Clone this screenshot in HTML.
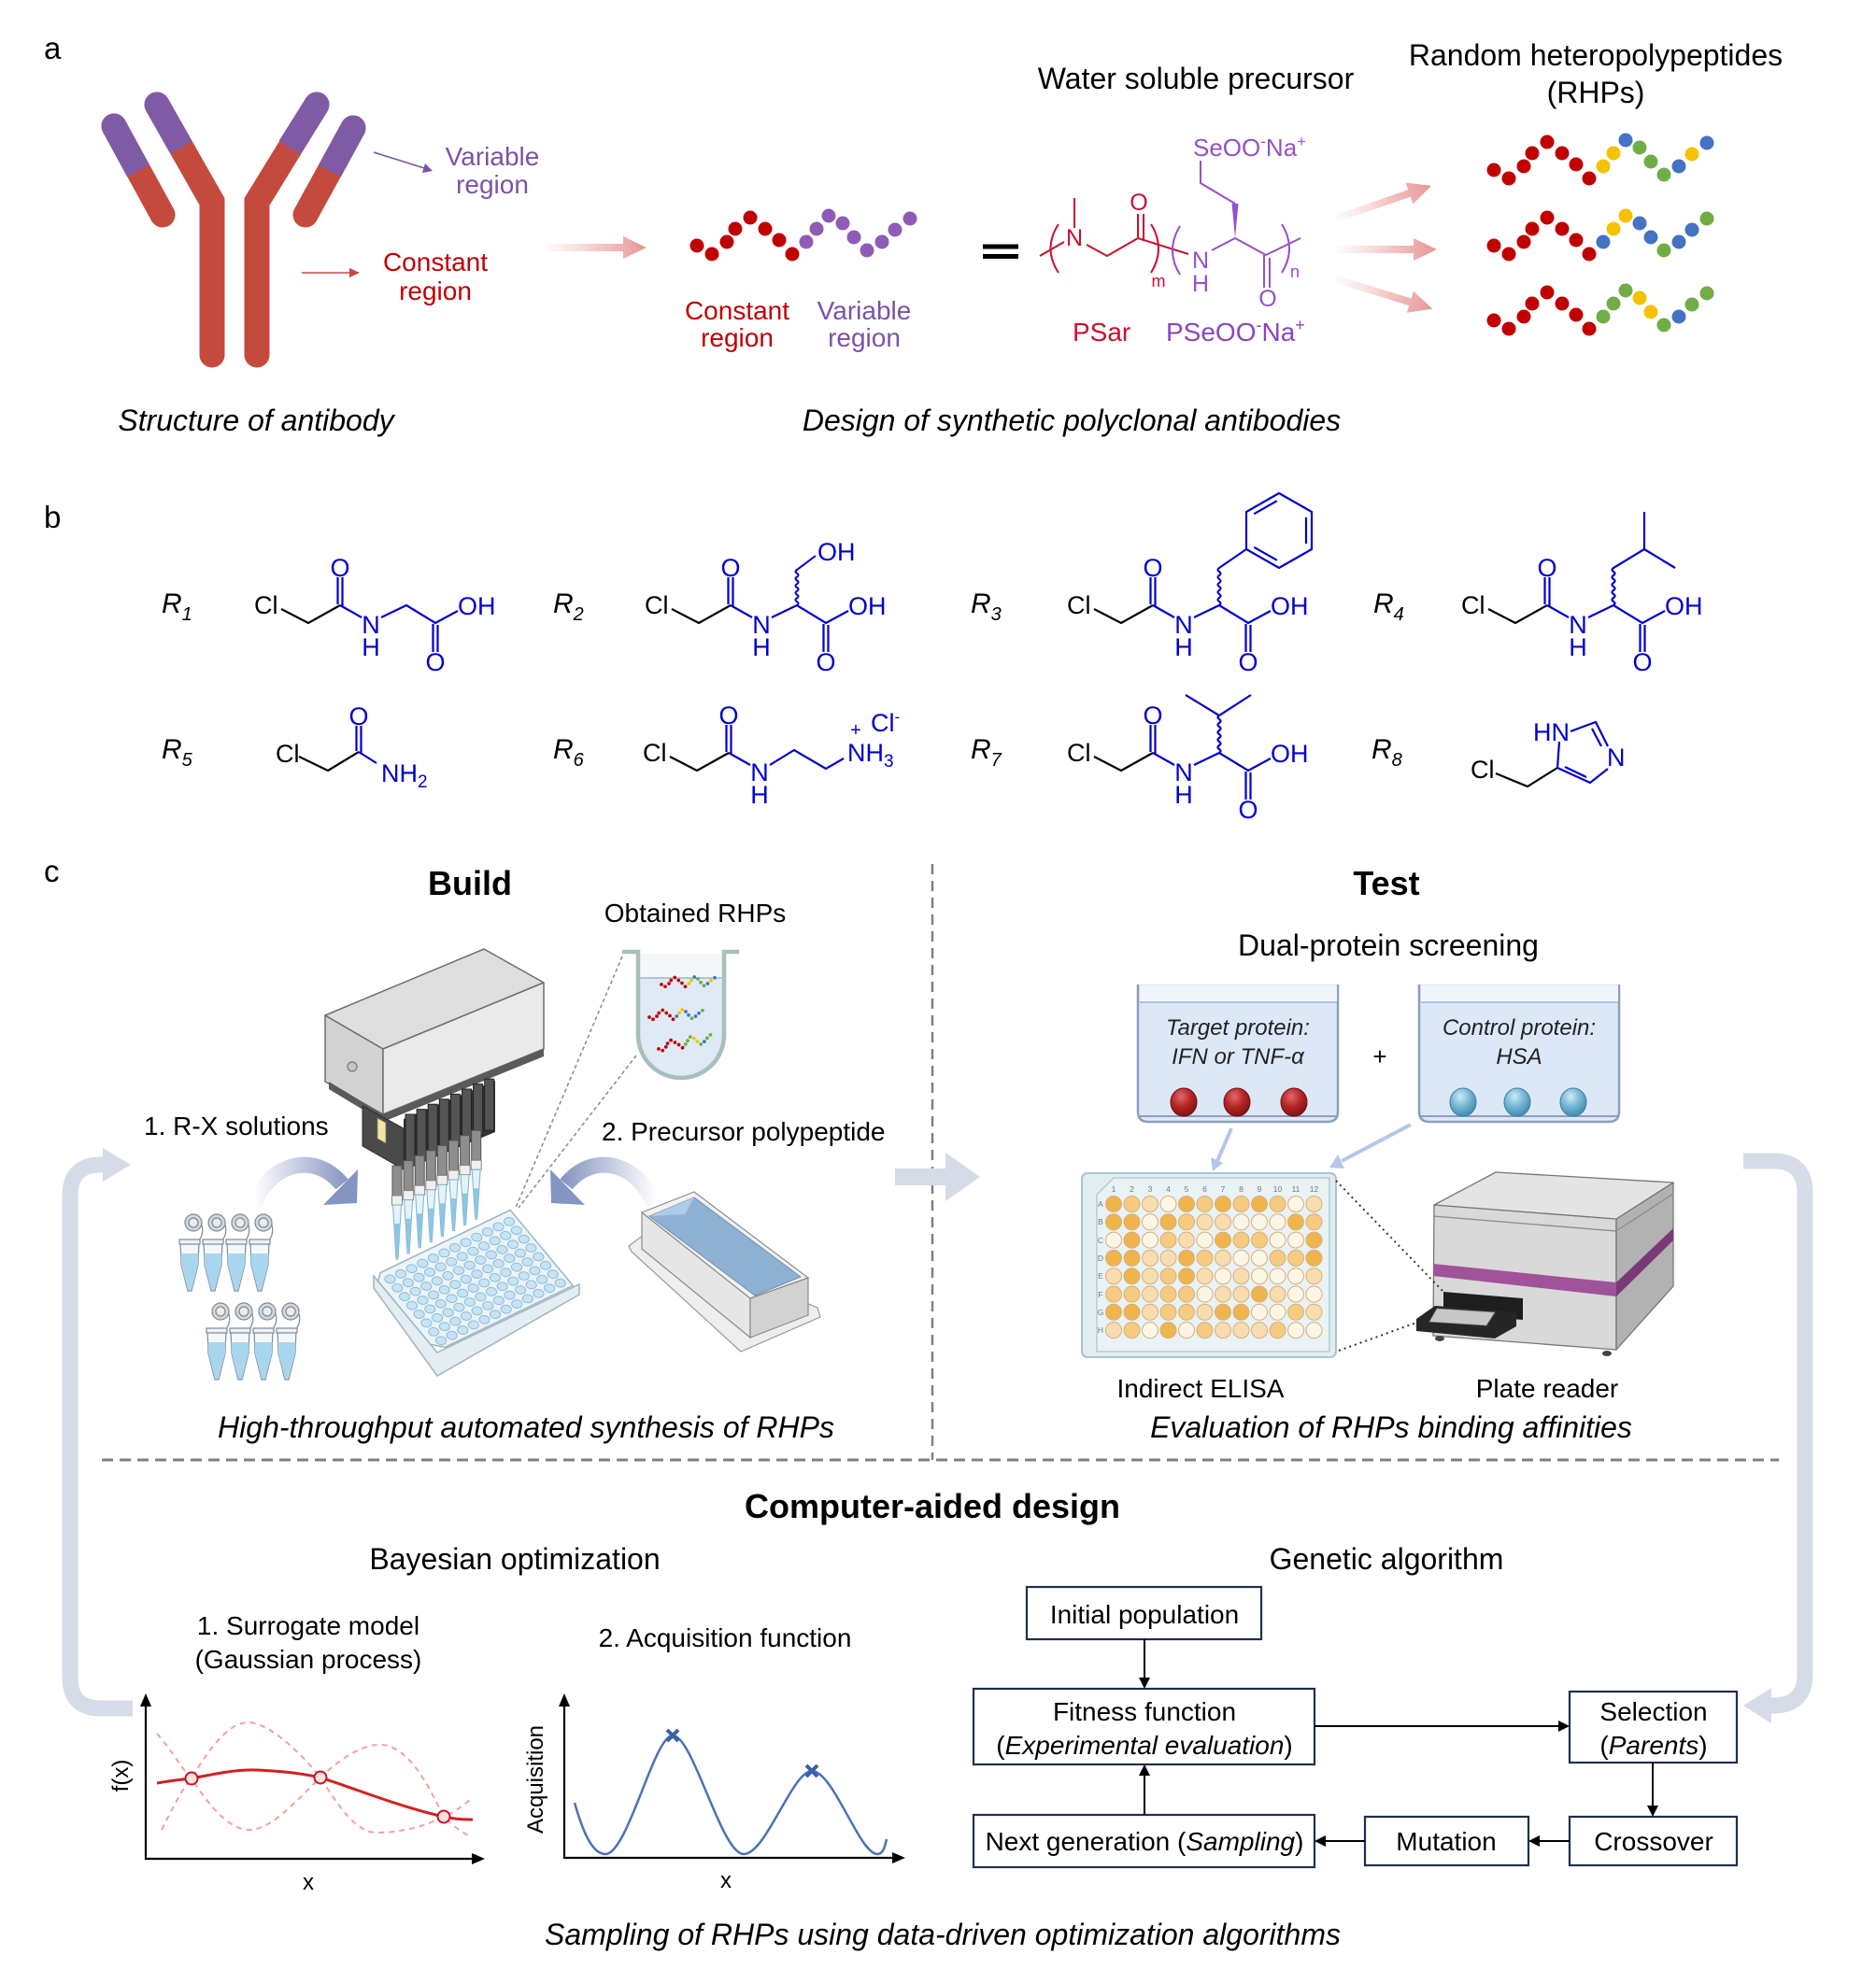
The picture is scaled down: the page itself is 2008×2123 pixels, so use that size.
<!DOCTYPE html>
<html><head><meta charset="utf-8"><style>
html,body{margin:0;padding:0;background:#fff;}
svg{display:block;font-family:"Liberation Sans",Arial,sans-serif;}
.d{fill:#f0b44c}.m{fill:#f6cb80}.l{fill:#f9ddb0}.w{fill:#fdf5e6}
</style></head><body>
<svg width="2008" height="2123" viewBox="0 0 2008 2123" xmlns="http://www.w3.org/2000/svg">
<defs>
 <linearGradient id="pinkg" x1="0" y1="0" x2="1" y2="0">
  <stop offset="0" stop-color="#f6d0d0" stop-opacity="0.1"/>
  <stop offset="0.55" stop-color="#eeb0b0" stop-opacity="0.75"/>
  <stop offset="1" stop-color="#e79494"/>
 </linearGradient>
 <path id="parrow" d="M0,-4 L83,-4 L83,-12 L108,0 L83,12 L83,4 L0,4 Z" fill="url(#pinkg)"/>
 <linearGradient id="bl1" gradientUnits="userSpaceOnUse" x1="272" y1="0" x2="372" y2="0">
  <stop offset="0" stop-color="#ffffff"/><stop offset="1" stop-color="#8595c2"/>
 </linearGradient>
 <linearGradient id="bl2" gradientUnits="userSpaceOnUse" x1="702" y1="0" x2="602" y2="0">
  <stop offset="0" stop-color="#ffffff"/><stop offset="1" stop-color="#8595c2"/>
 </linearGradient>
 <radialGradient id="rb" cx="0.4" cy="0.3" r="0.75">
  <stop offset="0" stop-color="#e26a6a"/><stop offset="0.5" stop-color="#b52525"/><stop offset="1" stop-color="#7a1212"/>
 </radialGradient>
 <radialGradient id="bb" cx="0.4" cy="0.3" r="0.75">
  <stop offset="0" stop-color="#cdebf7"/><stop offset="0.5" stop-color="#74b6d4"/><stop offset="1" stop-color="#3f86aa"/>
 </radialGradient>
 <g id="ch1">
  <circle cx="1599" cy="182" r="7.5" fill="#c00000"/><circle cx="1615" cy="191" r="7.5" fill="#c00000"/><circle cx="1631" cy="178" r="7.5" fill="#c00000"/><circle cx="1640" cy="164" r="7.5" fill="#c00000"/><circle cx="1656" cy="152" r="7.5" fill="#c00000"/><circle cx="1672" cy="164" r="7.5" fill="#c00000"/><circle cx="1687" cy="176" r="7.5" fill="#c00000"/><circle cx="1701" cy="191" r="7.5" fill="#c00000"/>
  <circle cx="1716" cy="178" r="7.5" fill="#f5c200"/><circle cx="1727" cy="164" r="7.5" fill="#f5c200"/><circle cx="1740" cy="150" r="7.5" fill="#4472c4"/><circle cx="1755" cy="158" r="7.5" fill="#70ad47"/><circle cx="1767" cy="173" r="7.5" fill="#70ad47"/><circle cx="1781" cy="187" r="7.5" fill="#70ad47"/><circle cx="1797" cy="178" r="7.5" fill="#4472c4"/><circle cx="1811" cy="165" r="7.5" fill="#f5c200"/><circle cx="1827" cy="153" r="7.5" fill="#4472c4"/>
 </g>
 <g id="ch2">
  <circle cx="1599" cy="263" r="7.5" fill="#c00000"/><circle cx="1615" cy="272" r="7.5" fill="#c00000"/><circle cx="1631" cy="259" r="7.5" fill="#c00000"/><circle cx="1640" cy="245" r="7.5" fill="#c00000"/><circle cx="1656" cy="233" r="7.5" fill="#c00000"/><circle cx="1672" cy="245" r="7.5" fill="#c00000"/><circle cx="1687" cy="257" r="7.5" fill="#c00000"/><circle cx="1701" cy="272" r="7.5" fill="#c00000"/>
  <circle cx="1716" cy="259" r="7.5" fill="#4472c4"/><circle cx="1727" cy="245" r="7.5" fill="#f5c200"/><circle cx="1740" cy="231" r="7.5" fill="#f5c200"/><circle cx="1755" cy="239" r="7.5" fill="#4472c4"/><circle cx="1767" cy="254" r="7.5" fill="#4472c4"/><circle cx="1781" cy="268" r="7.5" fill="#70ad47"/><circle cx="1797" cy="259" r="7.5" fill="#4472c4"/><circle cx="1811" cy="246" r="7.5" fill="#4472c4"/><circle cx="1827" cy="234" r="7.5" fill="#70ad47"/>
 </g>
 <g id="ch3">
  <circle cx="1599" cy="343" r="7.5" fill="#c00000"/><circle cx="1615" cy="352" r="7.5" fill="#c00000"/><circle cx="1631" cy="339" r="7.5" fill="#c00000"/><circle cx="1640" cy="325" r="7.5" fill="#c00000"/><circle cx="1656" cy="313" r="7.5" fill="#c00000"/><circle cx="1672" cy="325" r="7.5" fill="#c00000"/><circle cx="1687" cy="337" r="7.5" fill="#c00000"/><circle cx="1701" cy="352" r="7.5" fill="#c00000"/>
  <circle cx="1716" cy="339" r="7.5" fill="#70ad47"/><circle cx="1727" cy="325" r="7.5" fill="#70ad47"/><circle cx="1740" cy="311" r="7.5" fill="#70ad47"/><circle cx="1755" cy="319" r="7.5" fill="#f5c200"/><circle cx="1767" cy="334" r="7.5" fill="#f5c200"/><circle cx="1781" cy="348" r="7.5" fill="#70ad47"/><circle cx="1797" cy="339" r="7.5" fill="#4472c4"/><circle cx="1811" cy="326" r="7.5" fill="#70ad47"/><circle cx="1827" cy="314" r="7.5" fill="#70ad47"/>
 </g>
 <g id="bk" fill="none" stroke-width="2.2">
  <path d="M29,-5 L58,10 L92,-9" stroke="#000"/>
  <path d="M89.5,-10 L89.5,-39 M94.5,-8 L94.5,-39 M92,-9 L115,4 M136,4 L163,-9 L194,10 L218,-3 M191.5,11 L191.5,41 M196.5,12 L196.5,41" stroke="#0000cc"/>
 </g>
</defs>

<!-- ============ SECTION A ============ -->
<text x="47" y="63" font-size="33">a</text>

<!-- antibody -->
<g fill="none" stroke-width="27" stroke-linejoin="miter">
 <path d="M168,112 L227,216 L227,380" stroke="#c54a3e" stroke-linecap="round"/>
 <path d="M339,112 L275,216 L275,380" stroke="#c54a3e" stroke-linecap="round"/>
 <path d="M122,135 L174,230" stroke="#c54a3e" stroke-linecap="round"/>
 <path d="M378,137 L327,230" stroke="#c54a3e" stroke-linecap="round"/>
 <path d="M148,183 L122,135" stroke="#7f5ba6" stroke-linecap="butt"/>
 <path d="M194,158 L168,112" stroke="#7f5ba6" stroke-linecap="butt"/>
 <path d="M310,158 L339,112" stroke="#7f5ba6" stroke-linecap="butt"/>
 <path d="M353,183 L378,137" stroke="#7f5ba6" stroke-linecap="butt"/>
</g>
<g fill="#7f5ba6"><circle cx="122" cy="135" r="13.5"/><circle cx="168" cy="112" r="13.5"/><circle cx="339" cy="112" r="13.5"/><circle cx="378" cy="137" r="13.5"/></g>

<line x1="400" y1="163" x2="454" y2="180" stroke="#7b52a8" stroke-width="1.6"/>
<polygon points="463,183 452,185 455,175" fill="#7b52a8"/>
<text x="527" y="177" font-size="28" fill="#7b52a8" text-anchor="middle">Variable</text>
<text x="527" y="207" font-size="28" fill="#7b52a8" text-anchor="middle">region</text>
<line x1="323" y1="292" x2="376" y2="292" stroke="#c54a3e" stroke-width="1.6"/>
<polygon points="374,287 374,297 385,292" fill="#c54a3e"/>
<text x="466" y="290" font-size="28" fill="#c00000" text-anchor="middle">Constant</text>
<text x="466" y="321" font-size="28" fill="#c00000" text-anchor="middle">region</text>

<use href="#parrow" transform="translate(584,265)"/>

<g>
 <circle cx="746" cy="263" r="7.5" fill="#c00000"/><circle cx="762" cy="272" r="7.5" fill="#c00000"/><circle cx="778" cy="259" r="7.5" fill="#c00000"/><circle cx="787" cy="245" r="7.5" fill="#c00000"/><circle cx="803" cy="233" r="7.5" fill="#c00000"/><circle cx="819" cy="245" r="7.5" fill="#c00000"/><circle cx="834" cy="257" r="7.5" fill="#c00000"/><circle cx="848" cy="272" r="7.5" fill="#c00000"/>
 <circle cx="863" cy="259" r="7.5" fill="#8e5bb5"/><circle cx="874" cy="245" r="7.5" fill="#8e5bb5"/><circle cx="887" cy="231" r="7.5" fill="#8e5bb5"/><circle cx="902" cy="239" r="7.5" fill="#8e5bb5"/><circle cx="914" cy="254" r="7.5" fill="#8e5bb5"/><circle cx="928" cy="268" r="7.5" fill="#8e5bb5"/><circle cx="944" cy="259" r="7.5" fill="#8e5bb5"/><circle cx="958" cy="246" r="7.5" fill="#8e5bb5"/><circle cx="974" cy="234" r="7.5" fill="#8e5bb5"/>
</g>
<text x="789" y="342" font-size="28" fill="#c00000" text-anchor="middle">Constant</text>
<text x="789" y="371" font-size="28" fill="#c00000" text-anchor="middle">region</text>
<text x="925" y="342" font-size="28" fill="#7b52a8" text-anchor="middle">Variable</text>
<text x="925" y="371" font-size="28" fill="#7b52a8" text-anchor="middle">region</text>

<text x="274" y="461" font-size="32" font-style="italic" text-anchor="middle">Structure of antibody</text>
<text x="1147" y="461" font-size="32" font-style="italic" text-anchor="middle">Design of synthetic polyclonal antibodies</text>

<rect x="1052" y="261.5" width="38" height="5" fill="#000"/>
<rect x="1052" y="272" width="38" height="5" fill="#000"/>

<text x="1280" y="95" font-size="32" text-anchor="middle">Water soluble precursor</text>
<text x="1708" y="70" font-size="32" text-anchor="middle">Random heteropolypeptides</text>
<text x="1708" y="110" font-size="32" text-anchor="middle">(RHPs)</text>

<!-- precursor structure -->
<g fill="none" stroke-width="2">
 <path d="M1133,240 Q1116,266 1133,292" stroke="#c8102e"/>
 <path d="M1113,274 L1139,259 M1150,244 L1150,212 M1163,262 L1185,274 L1218,255 L1272,272 M1218,255 L1218,229 M1224,258 L1224,229" stroke="#c8102e"/>
 <path d="M1232,240 Q1248,266 1232,292" stroke="#c8102e"/>
 <path d="M1263,242 Q1247,268 1263,294" stroke="#9650c8"/>
 <path d="M1297,268 L1322,255 L1355,273 L1392,255 M1322,218 L1285,196 L1285,172 M1353,273 L1353,308 M1359,276 L1359,308" stroke="#9650c8"/>
 <path d="M1372,240 Q1388,266 1372,292" stroke="#9650c8"/>
</g>
<polygon points="1322,255 1318.5,218 1325.5,218" fill="#9650c8"/>
<g font-size="25" fill="#c8102e" text-anchor="middle">
 <text x="1150" y="263">N</text>
 <text x="1219" y="225">O</text>
</g>
<text x="1240" y="307" font-size="18" fill="#c8102e" text-anchor="middle">m</text>
<g font-size="25" fill="#9650c8" text-anchor="middle">
 <text x="1285" y="287">N</text>
 <text x="1285" y="312">H</text>
 <text x="1357" y="328">O</text>
</g>
<text x="1386" y="297" font-size="18" fill="#9650c8" text-anchor="middle">n</text>
<text x="1277" y="167" font-size="26" fill="#9650c8">SeOO<tspan font-size="17" dy="-10">-</tspan><tspan dy="10">Na</tspan><tspan font-size="17" dy="-10">+</tspan></text>
<text x="1148" y="365" font-size="28" fill="#c8102e">PSar</text>
<text x="1248" y="365" font-size="28" fill="#8a45bf">PSeOO<tspan font-size="18" dy="-11">-</tspan><tspan dy="11">Na</tspan><tspan font-size="18" dy="-11">+</tspan></text>

<use href="#parrow" transform="translate(1430,234) rotate(-19)"/>
<use href="#parrow" transform="translate(1430,267)"/>
<use href="#parrow" transform="translate(1430,299) rotate(17)"/>

<use href="#ch1"/><use href="#ch2"/><use href="#ch3"/>

<!-- ============ SECTION B ============ -->
<text x="47" y="565" font-size="33">b</text>
<g font-size="30" font-style="italic">
 <text x="173" y="656">R<tspan font-size="20" dy="8">1</tspan></text>
 <text x="592" y="656">R<tspan font-size="20" dy="8">2</tspan></text>
 <text x="1039" y="656">R<tspan font-size="20" dy="8">3</tspan></text>
 <text x="1470" y="656">R<tspan font-size="20" dy="8">4</tspan></text>
 <text x="173" y="812">R<tspan font-size="20" dy="8">5</tspan></text>
 <text x="592" y="812">R<tspan font-size="20" dy="8">6</tspan></text>
 <text x="1039" y="812">R<tspan font-size="20" dy="8">7</tspan></text>
 <text x="1468" y="812">R<tspan font-size="20" dy="8">8</tspan></text>
</g>

<!-- R1 -->
<g transform="translate(272,657)" font-size="27">
 <use href="#bk"/>
 <text x="0" y="0">Cl</text>
 <g fill="#0000cc" text-anchor="middle"><text x="92" y="-40">O</text><text x="125" y="21">N</text><text x="125" y="45">H</text><text x="194" y="61">O</text></g>
 <text x="218" y="1" fill="#0000cc">OH</text>
</g>
<!-- R2 -->
<g transform="translate(690,657)" font-size="27">
 <use href="#bk"/>
 <path d="M163,-9 q3,-1.9 0,-3.8 q-3,-1.9 0,-3.8 q3,-1.9 0,-3.8 q-3,-1.9 0,-3.8 q3,-1.9 0,-3.8 q-3,-1.9 0,-3.8 q3,-1.9 0,-3.8 q-3,-1.9 0,-3.8 q3,-1.9 0,-3.8 q-3,-1.9 0,-3.8 L183,-62" fill="none" stroke="#0000cc" stroke-width="2"/>
 <text x="0" y="0">Cl</text>
 <g fill="#0000cc" text-anchor="middle"><text x="92" y="-40">O</text><text x="125" y="21">N</text><text x="125" y="45">H</text><text x="194" y="61">O</text></g>
 <text x="218" y="1" fill="#0000cc">OH</text>
 <text x="185" y="-57" fill="#0000cc">OH</text>
</g>
<!-- R3 -->
<g transform="translate(1142,657)" font-size="27">
 <use href="#bk"/>
 <path d="M163,-9 q3,-2 0,-4 q-3,-2 0,-4 q3,-2 0,-4 q-3,-2 0,-4 q3,-2 0,-4 q-3,-2 0,-4 q3,-2 0,-4 q-3,-2 0,-4 q3,-2 0,-4 q-3,-2 0,-4 L192,-69" fill="none" stroke="#0000cc" stroke-width="2"/>
 <path d="M192,-69 L192,-109 L227,-129 L262,-109 L262,-69 L227,-49 Z M200.3,-106.8 L224.8,-120.8 M256,-103 L256,-75 M224.8,-57.2 L200.3,-71.2" fill="none" stroke="#0000cc" stroke-width="2.2"/>
 <text x="0" y="0">Cl</text>
 <g fill="#0000cc" text-anchor="middle"><text x="92" y="-40">O</text><text x="125" y="21">N</text><text x="125" y="45">H</text><text x="194" y="61">O</text></g>
 <text x="218" y="1" fill="#0000cc">OH</text>
</g>
<!-- R4 -->
<g transform="translate(1564,657)" font-size="27">
 <use href="#bk"/>
 <path d="M163,-9 q3,-2 0,-4 q-3,-2 0,-4 q3,-2 0,-4 q-3,-2 0,-4 q3,-2 0,-4 q-3,-2 0,-4 q3,-2 0,-4 q-3,-2 0,-4 q3,-2 0,-4 q-3,-2 0,-4 L196,-69 L196,-109 M196,-69 L229,-49" fill="none" stroke="#0000cc" stroke-width="2.2"/>
 <text x="0" y="0">Cl</text>
 <g fill="#0000cc" text-anchor="middle"><text x="92" y="-40">O</text><text x="125" y="21">N</text><text x="125" y="45">H</text><text x="194" y="61">O</text></g>
 <text x="218" y="1" fill="#0000cc">OH</text>
</g>
<!-- R5 -->
<g transform="translate(295,816)" font-size="27">
 <path d="M25,-6 L56,9 L89,-11" fill="none" stroke="#000" stroke-width="2.2"/>
 <path d="M86.5,-12 L86.5,-39 M91.5,-10 L91.5,-39 M89,-11 L108,1" fill="none" stroke="#0000cc" stroke-width="2.2"/>
 <text x="0" y="0">Cl</text>
 <text x="89" y="-40" fill="#0000cc" text-anchor="middle">O</text>
 <text x="113" y="21" fill="#0000cc">NH<tspan font-size="19" dy="6">2</tspan></text>
</g>
<!-- R6 -->
<g transform="translate(688,815)" font-size="27">
 <path d="M29,-5 L58,10 L92,-9" fill="none" stroke="#000" stroke-width="2.2"/>
 <path d="M89.5,-10 L89.5,-39 M94.5,-8 L94.5,-39 M92,-9 L115,4 M136,4 L162,-12 L196,8 L215,-3" fill="none" stroke="#0000cc" stroke-width="2.2"/>
 <text x="0" y="0">Cl</text>
 <g fill="#0000cc" text-anchor="middle"><text x="92" y="-40">O</text><text x="125" y="21">N</text><text x="125" y="45">H</text></g>
 <text x="219" y="0" fill="#0000cc">NH<tspan font-size="19" dy="6">3</tspan></text>
 <text x="228" y="-27" fill="#0000cc" font-size="20" text-anchor="middle">+</text>
 <text x="244" y="-32" fill="#0000cc">Cl<tspan font-size="17" dy="-10">-</tspan></text>
</g>
<!-- R7 -->
<g transform="translate(1142,815)" font-size="27">
 <use href="#bk"/>
 <path d="M163,-9 q3,-2 0,-4 q-3,-2 0,-4 q3,-2 0,-4 q-3,-2 0,-4 q3,-2 0,-4 q-3,-2 0,-4 q3,-2 0,-4 q-3,-2 0,-4 q3,-2 0,-4 q-3,-2 0,-4 L127,-71 M163,-49 L197,-71" fill="none" stroke="#0000cc" stroke-width="2.2"/>
 <text x="0" y="0">Cl</text>
 <g fill="#0000cc" text-anchor="middle"><text x="92" y="-40">O</text><text x="125" y="21">N</text><text x="125" y="45">H</text><text x="194" y="61">O</text></g>
 <text x="218" y="1" fill="#0000cc">OH</text>
</g>
<!-- R8 -->
<g transform="translate(1574,833)" font-size="27">
 <path d="M27,-5 L61,9 L93,-11" fill="none" stroke="#000" stroke-width="2.2"/>
 <path d="M93,-11 L95,-39 M107,-50 L134,-60 L147,-34 M147,-10 L128,5 L93,-11 M130,-53 L140,-34 M124,-1 L101,-12" fill="none" stroke="#0000cc" stroke-width="2.2"/>
 <text x="0" y="0">Cl</text>
 <text x="67" y="-40" fill="#0000cc">HN</text>
 <text x="146" y="-13" fill="#0000cc">N</text>
</g>

<!-- ============ SECTION C ============ -->
<text x="47" y="944" font-size="33">c</text>
<text x="503" y="958" font-size="36" font-weight="bold" text-anchor="middle">Build</text>
<text x="1484" y="958" font-size="36" font-weight="bold" text-anchor="middle">Test</text>
<text x="744" y="987" font-size="28" text-anchor="middle">Obtained RHPs</text>
<text x="1486" y="1023" font-size="32" text-anchor="middle">Dual-protein screening</text>

<line x1="998" y1="925" x2="998" y2="1563" stroke="#808080" stroke-width="2.5" stroke-dasharray="11,7"/>
<line x1="109" y1="1563" x2="1904" y2="1563" stroke="#808080" stroke-width="3" stroke-dasharray="12,7"/>

<!-- loops -->
<g fill="none" stroke="#d5dce7" stroke-width="17">
 <path d="M142,1829 L108,1829 Q75,1829 75,1796 L75,1280 Q75,1247 108,1247 L114,1247"/>
 <path d="M1866,1243 L1898,1243 Q1932,1243 1932,1277 L1932,1792 Q1932,1826 1898,1826 L1892,1826"/>
</g>
<polygon points="110,1229 110,1265 140,1247" fill="#d5dce7"/>
<polygon points="1896,1807 1896,1845 1866,1826" fill="#d5dce7"/>
<polygon points="958,1251 1012,1251 1012,1234 1049,1260 1012,1286 1012,1269 958,1269" fill="#d5dce7"/>

<!-- obtained RHPs tube -->
<rect x="685" y="1021" width="88" height="27" fill="#f4f8fb"/>
<path d="M685,1047 L773,1047 L773,1108 A44,44 0 0 1 685,1108 Z" fill="#dfeaf6"/>
<line x1="685" y1="1047" x2="773" y2="1047" stroke="#9fb8c8" stroke-width="1.5"/>
<path d="M666,1019 L683,1019 L683,1108 A46,46 0 0 0 775,1108 L775,1019 L791,1019" fill="none" stroke="#a6bfbb" stroke-width="4.5"/>
<use href="#ch1" transform="translate(708,1054) scale(0.25) translate(-1599,-182)"/>
<use href="#ch2" transform="translate(695,1089) scale(0.25) translate(-1599,-263)"/>
<use href="#ch3" transform="translate(705,1123) rotate(-8) scale(0.25) translate(-1599,-343)"/>
<line x1="666" y1="1024" x2="552" y2="1293" stroke="#8a8a8a" stroke-width="1.5" stroke-dasharray="4,3"/>
<line x1="681" y1="1130" x2="555" y2="1293" stroke="#8a8a8a" stroke-width="1.5" stroke-dasharray="4,3"/>

<!-- robot -->
<g stroke="#6e6e6e" stroke-width="1.5" stroke-linejoin="round">
 <polygon points="348,1087 410,1123 410,1193 348,1158" fill="#d2d2d2"/>
 <polygon points="348,1087 518,1016 582,1052 410,1123" fill="#dedede"/>
 <polygon points="410,1123 582,1052 582,1123 410,1193" fill="#eaeaea"/>
</g>
<circle cx="377" cy="1142" r="5" fill="#c4c4c4" stroke="#777" stroke-width="1.2"/>
<polygon points="352,1158 410,1193 582,1123 582,1131 410,1201 352,1166" fill="#5a5a5a"/>
<polygon points="388,1184 432,1208 432,1252 388,1227" fill="#4a4a4a" stroke="#2e2e2e"/>
<polygon points="404,1197 413,1202 413,1224 404,1219" fill="#f3e4a4" stroke="#777" stroke-width="0.8"/>
<polygon points="432,1198 530,1157 530,1212 432,1253" fill="#333"/>
<g fill="#555" stroke="#222" stroke-width="1">
 <rect x="434" y="1193" width="10" height="55"/><rect x="446.1" y="1187.6" width="10" height="55"/><rect x="458.2" y="1182.2" width="10" height="55"/><rect x="470.3" y="1176.8" width="10" height="55"/><rect x="482.4" y="1171.4" width="10" height="55"/><rect x="494.5" y="1166" width="10" height="55"/><rect x="506.6" y="1160.6" width="10" height="55"/><rect x="518.7" y="1155.2" width="10" height="55"/>
</g>
<!-- pipette tubes -->
<g stroke-width="1">
 <g transform="translate(425,1248)"><rect x="-5" y="0" width="10" height="32" fill="#8e8e8e" stroke="#555"/><rect x="-5.5" y="32" width="11" height="10" fill="#f0f0f0" stroke="#888"/><polygon points="-4.5,42 4.5,42 1,100 -1,100" fill="#e4f2f9" stroke="#7fb0cc"/><polygon points="-3.2,62 3.2,62 1,99 -1,99" fill="#8cc6e6"/></g>
 <g transform="translate(437.1,1242.6)"><rect x="-5" y="0" width="10" height="32" fill="#8e8e8e" stroke="#555"/><rect x="-5.5" y="32" width="11" height="10" fill="#f0f0f0" stroke="#888"/><polygon points="-4.5,42 4.5,42 1,99.3 -1,99.3" fill="#e4f2f9" stroke="#7fb0cc"/><polygon points="-3.2,62 3.2,62 1,98 -1,98" fill="#8cc6e6"/></g>
 <g transform="translate(449.2,1237.2)"><rect x="-5" y="0" width="10" height="32" fill="#8e8e8e" stroke="#555"/><rect x="-5.5" y="32" width="11" height="10" fill="#f0f0f0" stroke="#888"/><polygon points="-4.5,42 4.5,42 1,98.6 -1,98.6" fill="#e4f2f9" stroke="#7fb0cc"/><polygon points="-3.2,62 3.2,62 1,97 -1,97" fill="#8cc6e6"/></g>
 <g transform="translate(461.3,1231.8)"><rect x="-5" y="0" width="10" height="32" fill="#8e8e8e" stroke="#555"/><rect x="-5.5" y="32" width="11" height="10" fill="#f0f0f0" stroke="#888"/><polygon points="-4.5,42 4.5,42 1,97.9 -1,97.9" fill="#e4f2f9" stroke="#7fb0cc"/><polygon points="-3.2,62 3.2,62 1,96.5 -1,96.5" fill="#8cc6e6"/></g>
 <g transform="translate(473.4,1226.4)"><rect x="-5" y="0" width="10" height="32" fill="#8e8e8e" stroke="#555"/><rect x="-5.5" y="32" width="11" height="10" fill="#f0f0f0" stroke="#888"/><polygon points="-4.5,42 4.5,42 1,97.2 -1,97.2" fill="#e4f2f9" stroke="#7fb0cc"/><polygon points="-3.2,62 3.2,62 1,96 -1,96" fill="#8cc6e6"/></g>
 <g transform="translate(485.5,1221)"><rect x="-5" y="0" width="10" height="32" fill="#8e8e8e" stroke="#555"/><rect x="-5.5" y="32" width="11" height="10" fill="#f0f0f0" stroke="#888"/><polygon points="-4.5,42 4.5,42 1,96.5 -1,96.5" fill="#e4f2f9" stroke="#7fb0cc"/><polygon points="-3.2,62 3.2,62 1,95 -1,95" fill="#8cc6e6"/></g>
 <g transform="translate(497.6,1215.6)"><rect x="-5" y="0" width="10" height="32" fill="#8e8e8e" stroke="#555"/><rect x="-5.5" y="32" width="11" height="10" fill="#f0f0f0" stroke="#888"/><polygon points="-4.5,42 4.5,42 1,95.8 -1,95.8" fill="#e4f2f9" stroke="#7fb0cc"/><polygon points="-3.2,62 3.2,62 1,94.5 -1,94.5" fill="#8cc6e6"/></g>
 <g transform="translate(509.7,1210.2)"><rect x="-5" y="0" width="10" height="32" fill="#8e8e8e" stroke="#555"/><rect x="-5.5" y="32" width="11" height="10" fill="#f0f0f0" stroke="#888"/><polygon points="-4.5,42 4.5,42 1,95 -1,95" fill="#e4f2f9" stroke="#7fb0cc"/><polygon points="-3.2,62 3.2,62 1,94 -1,94" fill="#8cc6e6"/></g>
</g>

<!-- build plate -->
<polygon points="400,1366 468,1448 620,1375 620,1386 468,1473 400,1379" fill="#e3edf2" stroke="#9fb5c0" stroke-width="1.5"/>
<g transform="matrix(11.6,-5.6,7.8,9.4,400,1366)">
 <polygon points="0,0.6 0.6,0 12.6,0 12.6,8.6 0.8,8.6 0,7.8" fill="#ebf4f8" stroke="#9fb5c0" stroke-width="1.5" vector-effect="non-scaling-stroke"/>
 <g fill="#c7e4f4" stroke="#8fbcd8" stroke-width="1" vector-effect="non-scaling-stroke">
  <g id="wrow">
   <circle cx="0.9" cy="0.9" r="0.4" vector-effect="non-scaling-stroke"/><circle cx="1.9" cy="0.9" r="0.4" vector-effect="non-scaling-stroke"/><circle cx="2.9" cy="0.9" r="0.4" vector-effect="non-scaling-stroke"/><circle cx="3.9" cy="0.9" r="0.4" vector-effect="non-scaling-stroke"/><circle cx="4.9" cy="0.9" r="0.4" vector-effect="non-scaling-stroke"/><circle cx="5.9" cy="0.9" r="0.4" vector-effect="non-scaling-stroke"/><circle cx="6.9" cy="0.9" r="0.4" vector-effect="non-scaling-stroke"/><circle cx="7.9" cy="0.9" r="0.4" vector-effect="non-scaling-stroke"/><circle cx="8.9" cy="0.9" r="0.4" vector-effect="non-scaling-stroke"/><circle cx="9.9" cy="0.9" r="0.4" vector-effect="non-scaling-stroke"/><circle cx="10.9" cy="0.9" r="0.4" vector-effect="non-scaling-stroke"/><circle cx="11.9" cy="0.9" r="0.4" vector-effect="non-scaling-stroke"/>
  </g>
  <use href="#wrow" y="1"/><use href="#wrow" y="2"/><use href="#wrow" y="3"/><use href="#wrow" y="4"/><use href="#wrow" y="5"/><use href="#wrow" y="6"/><use href="#wrow" y="7"/>
 </g>
</g>

<!-- R-X tubes -->
<g stroke="#7d8b96" stroke-width="1.2">
 <g id="tg1">
  <g transform="translate(203,1330)"><path d="M10,-2 Q17,-12 11,-23" fill="none"/><circle cx="4" cy="-21" r="9" fill="#d4d8dc"/><circle cx="4" cy="-21" r="5" fill="#eaeced"/><path d="M-10,0 L10,0 L9,24 L2,52 L-2,52 L-9,24 Z" fill="#f4f7f9"/><path d="M-9.5,12 L9.5,12 L9,24 L2,51 L-2,51 L-9,24 Z" fill="#a9d6ef" stroke="none"/><rect x="-11" y="-3" width="22" height="5" fill="#eef2f5"/></g>
  <g transform="translate(228,1330)"><path d="M10,-2 Q17,-12 11,-23" fill="none"/><circle cx="4" cy="-21" r="9" fill="#d4d8dc"/><circle cx="4" cy="-21" r="5" fill="#eaeced"/><path d="M-10,0 L10,0 L9,24 L2,52 L-2,52 L-9,24 Z" fill="#f4f7f9"/><path d="M-9.5,12 L9.5,12 L9,24 L2,51 L-2,51 L-9,24 Z" fill="#a9d6ef" stroke="none"/><rect x="-11" y="-3" width="22" height="5" fill="#eef2f5"/></g>
  <g transform="translate(253,1330)"><path d="M10,-2 Q17,-12 11,-23" fill="none"/><circle cx="4" cy="-21" r="9" fill="#d4d8dc"/><circle cx="4" cy="-21" r="5" fill="#eaeced"/><path d="M-10,0 L10,0 L9,24 L2,52 L-2,52 L-9,24 Z" fill="#f4f7f9"/><path d="M-9.5,12 L9.5,12 L9,24 L2,51 L-2,51 L-9,24 Z" fill="#a9d6ef" stroke="none"/><rect x="-11" y="-3" width="22" height="5" fill="#eef2f5"/></g>
  <g transform="translate(278,1330)"><path d="M10,-2 Q17,-12 11,-23" fill="none"/><circle cx="4" cy="-21" r="9" fill="#d4d8dc"/><circle cx="4" cy="-21" r="5" fill="#eaeced"/><path d="M-10,0 L10,0 L9,24 L2,52 L-2,52 L-9,24 Z" fill="#f4f7f9"/><path d="M-9.5,12 L9.5,12 L9,24 L2,51 L-2,51 L-9,24 Z" fill="#a9d6ef" stroke="none"/><rect x="-11" y="-3" width="22" height="5" fill="#eef2f5"/></g>
 </g>
 <use href="#tg1" transform="translate(29,95)"/>
</g>

<!-- curved arrows -->
<path d="M272,1290 C286,1248 335,1230 366,1268" fill="none" stroke="url(#bl1)" stroke-width="17"/>
<polygon points="346,1290 383,1252 382,1288" fill="#8595c2"/>
<path d="M700,1290 C686,1248 637,1230 606,1268" fill="none" stroke="url(#bl2)" stroke-width="17"/>
<polygon points="626,1290 589,1252 590,1288" fill="#8595c2"/>

<!-- reservoir -->
<polygon points="673,1334 689,1322 875,1400 878,1410 793,1447 676,1340" fill="#eeeeee" stroke="#9a9a9a" stroke-width="1.2"/>
<polygon points="687,1298 803,1390 803,1432 687,1337" fill="#e6e6e6" stroke="#8a8a8a" stroke-width="1.2"/>
<polygon points="803,1390 865,1368 865,1408 803,1432" fill="#d2d2d2" stroke="#8a8a8a" stroke-width="1.2"/>
<polygon points="687,1298 743,1276 865,1368 803,1390" fill="#f2f2f2" stroke="#8a8a8a" stroke-width="1.2"/>
<polygon points="695,1302 743,1282 857,1367 808,1387" fill="#8fb1d4" stroke="#6f8fb3" stroke-width="1"/>
<polygon points="695,1302 743,1282 733,1300" fill="#aecbe8"/>

<text x="154" y="1215" font-size="28">1. R-X solutions</text>
<text x="644" y="1221" font-size="28">2. Precursor polypeptide</text>
<text x="563" y="1539" font-size="32" font-style="italic" text-anchor="middle">High-throughput automated synthesis of RHPs</text>

<!-- test containers -->
<g stroke="#8e9dbd" stroke-width="2.5">
 <path d="M1218,1054 L1218,1190 Q1218,1201 1229,1201 L1421,1201 Q1432,1201 1432,1190 L1432,1054" fill="#dce8f8"/>
 <path d="M1519,1054 L1519,1190 Q1519,1201 1530,1201 L1722,1201 Q1733,1201 1733,1190 L1733,1054" fill="#dce8f8"/>
</g>
<rect x="1220" y="1055" width="211" height="18" fill="#f1f6fc"/>
<rect x="1521" y="1055" width="211" height="18" fill="#f1f6fc"/>
<line x1="1220" y1="1073" x2="1431" y2="1073" stroke="#9fb0d0" stroke-width="1.5"/>
<line x1="1521" y1="1073" x2="1732" y2="1073" stroke="#9fb0d0" stroke-width="1.5"/>
<line x1="1220" y1="1195" x2="1431" y2="1195" stroke="#8e9dbd" stroke-width="2"/>
<line x1="1521" y1="1195" x2="1732" y2="1195" stroke="#8e9dbd" stroke-width="2"/>
<g font-size="24" font-style="italic" text-anchor="middle" fill="#222">
 <text x="1325" y="1108">Target protein:</text>
 <text x="1325" y="1139">IFN or TNF-α</text>
 <text x="1626" y="1108">Control protein:</text>
 <text x="1626" y="1139">HSA</text>
</g>
<text x="1477" y="1140" font-size="26" text-anchor="middle">+</text>
<g stroke="#6e1010" stroke-width="1"><ellipse cx="1267" cy="1180" rx="14" ry="15" fill="url(#rb)"/><ellipse cx="1324" cy="1180" rx="14" ry="15" fill="url(#rb)"/><ellipse cx="1385" cy="1180" rx="14" ry="15" fill="url(#rb)"/></g>
<g stroke="#3d7fa0" stroke-width="1"><ellipse cx="1566" cy="1180" rx="14" ry="15" fill="url(#bb)"/><ellipse cx="1624" cy="1180" rx="14" ry="15" fill="url(#bb)"/><ellipse cx="1684" cy="1180" rx="14" ry="15" fill="url(#bb)"/></g>

<line x1="1318" y1="1208" x2="1303" y2="1243" stroke="#b5c6e8" stroke-width="4"/>
<polygon points="1298,1254 1309,1245 1296,1239" fill="#b5c6e8"/>
<line x1="1510" y1="1204" x2="1436" y2="1243" stroke="#b5c6e8" stroke-width="4"/>
<polygon points="1423,1250 1439,1251 1432,1236" fill="#b5c6e8"/>

<!-- ELISA plate -->
<rect x="1158" y="1256" width="272" height="197" rx="6" fill="#e2edf2" stroke="#a9c4cc" stroke-width="2"/>
<polygon points="1192,1261 1423,1261 1423,1447 1174,1447 1174,1279" fill="#e9f2f5" stroke="#b5ccd3" stroke-width="1.5"/>
<g font-size="8.5" fill="#777" text-anchor="middle">
 <text x="1192" y="1276">1</text><text x="1211.5" y="1276">2</text><text x="1231" y="1276">3</text><text x="1250.5" y="1276">4</text><text x="1270" y="1276">5</text><text x="1289.5" y="1276">6</text><text x="1309" y="1276">7</text><text x="1328.5" y="1276">8</text><text x="1348" y="1276">9</text><text x="1367.5" y="1276">10</text><text x="1387" y="1276">11</text><text x="1406.5" y="1276">12</text>
 <text x="1178" y="1292">A</text><text x="1178" y="1311">B</text><text x="1178" y="1331">C</text><text x="1178" y="1350">D</text><text x="1178" y="1369">E</text><text x="1178" y="1389">F</text><text x="1178" y="1408">G</text><text x="1178" y="1427">H</text>
</g>
<g stroke="#d6b07a" stroke-width="1">
 <g transform="translate(0,1289)"><circle cx="1192" r="8.5" class="d"/><circle cx="1211.5" r="8.5" class="m"/><circle cx="1231" r="8.5" class="l"/><circle cx="1250.5" r="8.5" class="w"/><circle cx="1270" r="8.5" class="d"/><circle cx="1289.5" r="8.5" class="m"/><circle cx="1309" r="8.5" class="d"/><circle cx="1328.5" r="8.5" class="m"/><circle cx="1348" r="8.5" class="d"/><circle cx="1367.5" r="8.5" class="m"/><circle cx="1387" r="8.5" class="w"/><circle cx="1406.5" r="8.5" class="l"/></g>
 <g transform="translate(0,1308.3)"><circle cx="1192" r="8.5" class="d"/><circle cx="1211.5" r="8.5" class="d"/><circle cx="1231" r="8.5" class="w"/><circle cx="1250.5" r="8.5" class="d"/><circle cx="1270" r="8.5" class="m"/><circle cx="1289.5" r="8.5" class="l"/><circle cx="1309" r="8.5" class="l"/><circle cx="1328.5" r="8.5" class="w"/><circle cx="1348" r="8.5" class="w"/><circle cx="1367.5" r="8.5" class="w"/><circle cx="1387" r="8.5" class="d"/><circle cx="1406.5" r="8.5" class="m"/></g>
 <g transform="translate(0,1327.6)"><circle cx="1192" r="8.5" class="w"/><circle cx="1211.5" r="8.5" class="d"/><circle cx="1231" r="8.5" class="w"/><circle cx="1250.5" r="8.5" class="m"/><circle cx="1270" r="8.5" class="l"/><circle cx="1289.5" r="8.5" class="w"/><circle cx="1309" r="8.5" class="d"/><circle cx="1328.5" r="8.5" class="m"/><circle cx="1348" r="8.5" class="m"/><circle cx="1367.5" r="8.5" class="w"/><circle cx="1387" r="8.5" class="w"/><circle cx="1406.5" r="8.5" class="d"/></g>
 <g transform="translate(0,1346.9)"><circle cx="1192" r="8.5" class="d"/><circle cx="1211.5" r="8.5" class="d"/><circle cx="1231" r="8.5" class="l"/><circle cx="1250.5" r="8.5" class="l"/><circle cx="1270" r="8.5" class="d"/><circle cx="1289.5" r="8.5" class="m"/><circle cx="1309" r="8.5" class="l"/><circle cx="1328.5" r="8.5" class="w"/><circle cx="1348" r="8.5" class="w"/><circle cx="1367.5" r="8.5" class="m"/><circle cx="1387" r="8.5" class="m"/><circle cx="1406.5" r="8.5" class="d"/></g>
 <g transform="translate(0,1366.2)"><circle cx="1192" r="8.5" class="l"/><circle cx="1211.5" r="8.5" class="d"/><circle cx="1231" r="8.5" class="l"/><circle cx="1250.5" r="8.5" class="m"/><circle cx="1270" r="8.5" class="d"/><circle cx="1289.5" r="8.5" class="l"/><circle cx="1309" r="8.5" class="w"/><circle cx="1328.5" r="8.5" class="l"/><circle cx="1348" r="8.5" class="w"/><circle cx="1367.5" r="8.5" class="w"/><circle cx="1387" r="8.5" class="w"/><circle cx="1406.5" r="8.5" class="l"/></g>
 <g transform="translate(0,1385.5)"><circle cx="1192" r="8.5" class="m"/><circle cx="1211.5" r="8.5" class="m"/><circle cx="1231" r="8.5" class="l"/><circle cx="1250.5" r="8.5" class="m"/><circle cx="1270" r="8.5" class="m"/><circle cx="1289.5" r="8.5" class="w"/><circle cx="1309" r="8.5" class="l"/><circle cx="1328.5" r="8.5" class="l"/><circle cx="1348" r="8.5" class="d"/><circle cx="1367.5" r="8.5" class="l"/><circle cx="1387" r="8.5" class="w"/><circle cx="1406.5" r="8.5" class="w"/></g>
 <g transform="translate(0,1404.8)"><circle cx="1192" r="8.5" class="d"/><circle cx="1211.5" r="8.5" class="d"/><circle cx="1231" r="8.5" class="l"/><circle cx="1250.5" r="8.5" class="m"/><circle cx="1270" r="8.5" class="m"/><circle cx="1289.5" r="8.5" class="l"/><circle cx="1309" r="8.5" class="d"/><circle cx="1328.5" r="8.5" class="d"/><circle cx="1348" r="8.5" class="w"/><circle cx="1367.5" r="8.5" class="w"/><circle cx="1387" r="8.5" class="m"/><circle cx="1406.5" r="8.5" class="l"/></g>
 <g transform="translate(0,1424.1)"><circle cx="1192" r="8.5" class="l"/><circle cx="1211.5" r="8.5" class="m"/><circle cx="1231" r="8.5" class="w"/><circle cx="1250.5" r="8.5" class="d"/><circle cx="1270" r="8.5" class="w"/><circle cx="1289.5" r="8.5" class="m"/><circle cx="1309" r="8.5" class="l"/><circle cx="1328.5" r="8.5" class="l"/><circle cx="1348" r="8.5" class="l"/><circle cx="1367.5" r="8.5" class="m"/><circle cx="1387" r="8.5" class="w"/><circle cx="1406.5" r="8.5" class="w"/></g>
</g>

<!-- plate reader -->
<g stroke="#777" stroke-width="1.3" stroke-linejoin="round">
 <polygon points="1535,1290 1730,1305 1730,1445 1534,1430" fill="#d9d9d9"/>
 <polygon points="1730,1305 1791,1266 1791,1377 1730,1445" fill="#b2b2b2"/>
 <polygon points="1535,1290 1601,1255 1791,1266 1730,1305" fill="#e4e4e4"/>
</g>
<line x1="1534" y1="1302" x2="1730" y2="1318" stroke="#8a8a8a" stroke-width="1.3"/>
<line x1="1730" y1="1318" x2="1791" y2="1278" stroke="#8a8a8a" stroke-width="1.3"/>
<polygon points="1534,1353 1730,1373 1730,1388 1534,1366" fill="#a0529a"/>
<polygon points="1730,1373 1791,1315 1791,1328 1730,1388" fill="#7a3a76"/>
<polygon points="1545,1383 1630,1390 1630,1413 1545,1406" fill="#1e1e1e"/>
<polygon points="1516,1412 1536,1398 1623,1405 1623,1420 1600,1433 1516,1425" fill="#262626"/>
<polygon points="1538,1401 1600,1405 1591,1419 1530,1415" fill="#c8c8c8" stroke="#888" stroke-width="0.8"/>
<ellipse cx="1541" cy="1433" rx="5" ry="3" fill="#444"/>
<ellipse cx="1720" cy="1449" rx="5" ry="3" fill="#444"/>
<line x1="1430" y1="1264" x2="1545" y2="1383" stroke="#333" stroke-width="2" stroke-dasharray="2,4"/>
<line x1="1433" y1="1446" x2="1516" y2="1416" stroke="#333" stroke-width="2" stroke-dasharray="2,4"/>

<text x="1285" y="1496" font-size="28" text-anchor="middle">Indirect ELISA</text>
<text x="1656" y="1496" font-size="28" text-anchor="middle">Plate reader</text>
<text x="1489" y="1539" font-size="32" font-style="italic" text-anchor="middle">Evaluation of RHPs binding affinities</text>

<!-- ============ COMPUTER-AIDED ============ -->
<text x="998" y="1625" font-size="36" font-weight="bold" text-anchor="middle">Computer-aided design</text>
<text x="551" y="1680" font-size="32" text-anchor="middle">Bayesian optimization</text>
<text x="1484" y="1680" font-size="32" text-anchor="middle">Genetic algorithm</text>
<text x="330" y="1750" font-size="28" text-anchor="middle">1. Surrogate model</text>
<text x="330" y="1786" font-size="28" text-anchor="middle">(Gaussian process)</text>
<text x="776" y="1763" font-size="28" text-anchor="middle">2. Acquisition function</text>

<!-- plot 1 -->
<g stroke="#000" stroke-width="2.2" fill="none">
 <path d="M156,1824 L156,1990 L508,1990"/>
 <path d="M604,1824 L604,1989 L958,1989"/>
</g>
<polygon points="150,1827 162,1827 156,1813" fill="#000"/>
<polygon points="505,1984 505,1996 519,1990" fill="#000"/>
<polygon points="598,1827 610,1827 604,1813" fill="#000"/>
<polygon points="955,1983 955,1995 969,1989" fill="#000"/>
<g fill="none" stroke="#f2a0a0" stroke-width="2" stroke-dasharray="6,5">
 <path d="M168,1856 C185,1875 195,1895 205,1904 C225,1935 245,1958 266,1959 C290,1960 320,1925 343,1903 C365,1882 390,1866 410,1868 C440,1872 460,1915 475,1945 C485,1955 495,1962 503,1966"/>
 <path d="M173,1959 C185,1935 195,1915 205,1904 C225,1870 245,1844 266,1844 C290,1845 325,1880 343,1903 C360,1930 380,1962 403,1962 C430,1962 455,1955 475,1945 C490,1938 500,1930 506,1924"/>
</g>
<path d="M168,1909 C185,1906 195,1905 205,1904 C230,1899 255,1894 275,1895 C300,1896 325,1899 343,1903 C380,1915 430,1935 475,1945 C490,1948 498,1948 506,1948" fill="none" stroke="#d42020" stroke-width="3"/>
<g fill="#fde3d9" stroke="#c8102e" stroke-width="2"><circle cx="205" cy="1904" r="6.5"/><circle cx="343" cy="1903" r="6.5"/><circle cx="475" cy="1945" r="6.5"/></g>
<text x="0" y="0" font-size="24" text-anchor="middle" transform="translate(137,1901) rotate(-90)">f(x)</text>
<text x="330" y="2023" font-size="24" text-anchor="middle">x</text>

<!-- plot 2 -->
<path d="M615,1930 C625,1965 635,1985 648,1985 C672,1985 700,1858 720,1858 C742,1858 772,1985 796,1985 C820,1985 848,1896 869,1896 C892,1896 920,1985 939,1985 C945,1985 947,1978 949,1969" fill="none" stroke="#4a72b8" stroke-width="2.5"/>
<g stroke="#3a62a8" stroke-width="4"><path d="M714,1852 L726,1864 M726,1852 L714,1864"/><path d="M863,1890 L875,1902 M875,1890 L863,1902"/></g>
<text x="0" y="0" font-size="24" text-anchor="middle" transform="translate(581,1905) rotate(-90)">Acquisition</text>
<text x="777" y="2021" font-size="24" text-anchor="middle">x</text>

<!-- genetic algorithm -->
<g fill="#fff" stroke="#1f2f4f" stroke-width="2.2">
 <rect x="1099" y="1699" width="251" height="56"/>
 <rect x="1042" y="1808" width="365" height="81"/>
 <rect x="1680" y="1811" width="179" height="76"/>
 <rect x="1042" y="1943" width="365" height="56"/>
 <rect x="1461" y="1945" width="175" height="52"/>
 <rect x="1680" y="1945" width="179" height="52"/>
</g>
<g stroke="#000" stroke-width="2">
 <line x1="1225" y1="1755" x2="1225" y2="1798"/>
 <line x1="1407" y1="1848" x2="1670" y2="1848"/>
 <line x1="1769" y1="1887" x2="1769" y2="1935"/>
 <line x1="1680" y1="1971" x2="1646" y2="1971"/>
 <line x1="1461" y1="1971" x2="1417" y2="1971"/>
 <line x1="1225" y1="1943" x2="1225" y2="1899"/>
</g>
<g fill="#000">
 <polygon points="1219,1796 1231,1796 1225,1808"/>
 <polygon points="1668,1842 1668,1854 1680,1848"/>
 <polygon points="1763,1933 1775,1933 1769,1945"/>
 <polygon points="1648,1965 1648,1977 1636,1971"/>
 <polygon points="1419,1965 1419,1977 1407,1971"/>
 <polygon points="1219,1901 1231,1901 1225,1889"/>
</g>
<g font-size="28" text-anchor="middle">
 <text x="1225" y="1738">Initial population</text>
 <text x="1225" y="1842">Fitness function</text>
 <text x="1225" y="1878">(<tspan font-style="italic">Experimental evaluation</tspan>)</text>
 <text x="1770" y="1842">Selection</text>
 <text x="1770" y="1878">(<tspan font-style="italic">Parents</tspan>)</text>
 <text x="1225" y="1981">Next generation (<tspan font-style="italic">Sampling</tspan>)</text>
 <text x="1548" y="1981">Mutation</text>
 <text x="1770" y="1981">Crossover</text>
</g>

<text x="1009" y="2082" font-size="32" font-style="italic" text-anchor="middle">Sampling of RHPs using data-driven optimization algorithms</text>
</svg>
</body></html>
